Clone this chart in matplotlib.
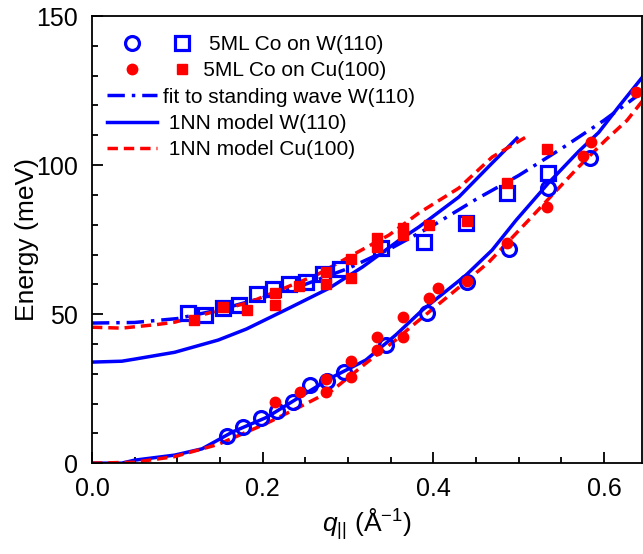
import matplotlib
matplotlib.use("Agg")
import matplotlib.pyplot as plt
from matplotlib.legend_handler import HandlerTuple
from matplotlib.ticker import MultipleLocator

plt.rcParams['font.family'] = ['Liberation Sans', 'DejaVu Sans']
plt.rcParams['mathtext.fontset'] = 'custom'
plt.rcParams['mathtext.rm'] = 'Liberation Sans'
plt.rcParams['mathtext.it'] = 'Liberation Sans:italic'

BLUE = '#0000ff'
RED = '#ff0000'

# --- data ---
# 5ML Co on W(110): lower branch (open circles), upper branch (open squares)
w_circ_q = [0.158, 0.177, 0.198, 0.217, 0.236, 0.256, 0.275, 0.295, 0.345, 0.393, 0.440, 0.489, 0.535, 0.584]
w_circ_e = [9.1, 12.1, 15.1, 17.6, 20.5, 26.2, 27.5, 30.5, 39.6, 50.3, 60.9, 71.8, 92.3, 102.3]
w_sq_q = [0.113, 0.133, 0.153, 0.172, 0.193, 0.212, 0.231, 0.251, 0.271, 0.291, 0.339, 0.389, 0.438, 0.486, 0.535]
w_sq_e = [50.3, 49.7, 52.0, 53.0, 56.7, 58.4, 60.1, 60.7, 63.4, 65.1, 72.1, 74.2, 80.5, 90.6, 97.3]

# 5ML Co on Cu(100): lower branch (filled circles), upper branch (filled squares)
cu_circ_q = [0.215, 0.244, 0.274, 0.274, 0.304, 0.304, 0.334, 0.334, 0.364, 0.364, 0.395, 0.406,
             0.440, 0.486, 0.533, 0.576, 0.585, 0.638]
cu_circ_e = [20.5, 23.8, 28.2, 24.0, 34.2, 28.8, 42.3, 37.9, 49.0, 42.3, 55.4, 58.7,
             61.1, 73.8, 86.0, 103.0, 107.7, 124.5]
cu_sq_q = [0.120, 0.153, 0.182, 0.214, 0.214, 0.243, 0.274, 0.274, 0.304, 0.304, 0.334, 0.334,
           0.364, 0.364, 0.395, 0.440, 0.486, 0.533]
cu_sq_e = [48.0, 52.3, 51.3, 57.0, 53.0, 59.4, 64.1, 60.1, 68.5, 62.1, 75.5, 72.5,
           78.8, 76.5, 79.9, 81.2, 94.0, 105.4]

# fit to standing wave W(110)
fit_q = [0.0, 0.05, 0.10, 0.15, 0.20, 0.25, 0.30, 0.35, 0.40, 0.45, 0.50, 0.55, 0.60, 0.645]
fit_e = [47.0, 47.2, 48.5, 51.5, 55.5, 60.0, 65.3, 72.0, 79.8, 88.5, 96.5, 105.5, 115.0, 124.5]

# 1NN model W(110): upper and lower branch
nnw_up_q = [0.0, 0.035, 0.05, 0.097, 0.148, 0.181, 0.231, 0.278, 0.317, 0.36, 0.383, 0.43, 0.469, 0.498]
nnw_up_e = [33.9, 34.2, 34.9, 37.2, 41.3, 45.0, 52.0, 58.7, 65.8, 74.8, 79.2, 89.3, 100.7, 109.0]
nnw_lo_q = [0.0, 0.035, 0.05, 0.097, 0.129, 0.165, 0.205, 0.243, 0.282, 0.321, 0.356, 0.387,
            0.438, 0.469, 0.497, 0.535, 0.570, 0.594, 0.617, 0.645]
nnw_lo_e = [0.0, 0.0, 1.0, 2.7, 4.8, 10.5, 15.4, 22.1, 28.9, 34.6, 43.0, 51.3,
            63.0, 71.5, 81.5, 94.0, 104.5, 111.0, 119.5, 129.5]

# 1NN model Cu(100): upper and lower branch
nncu_up_q = [0.0, 0.035, 0.076, 0.097, 0.185, 0.263, 0.305, 0.348, 0.383, 0.43, 0.469, 0.512]
nncu_up_e = [45.6, 45.3, 46.5, 47.3, 54.0, 63.1, 69.8, 76.5, 83.9, 92.3, 102.7, 110.0]
nncu_lo_q = [0.0, 0.05, 0.097, 0.148, 0.205, 0.243, 0.282, 0.321, 0.356, 0.372, 0.426, 0.465,
             0.51, 0.547, 0.570, 0.602, 0.627, 0.645]
nncu_lo_e = [0.0, 0.3, 2.2, 6.3, 13.4, 18.8, 24.5, 33.5, 41.3, 45.3, 58.0, 67.4,
             81.0, 92.3, 99.3, 108.4, 115.0, 121.5]


class WideTuple(HandlerTuple):
    # Origin-style legend: the symbol pair spreads wider than the line samples
    def create_artists(self, legend, orig_handle, xdescent, ydescent,
                       width, height, fontsize, trans):
        return super().create_artists(legend, orig_handle, xdescent, ydescent,
                                      width * 2, height, fontsize, trans)


fig = plt.figure(figsize=(6.43, 5.54), dpi=100)
ax = fig.add_axes([0.143, 0.164, 0.856, 0.807])

lw = 2.5
l_fit, = ax.plot(fit_q, fit_e, color=BLUE, lw=lw, ls=(0, (5, 2, 1, 2)))
l_nnw, = ax.plot(nnw_up_q, nnw_up_e, color=BLUE, lw=lw)
ax.plot(nnw_lo_q, nnw_lo_e, color=BLUE, lw=lw)
l_nncu, = ax.plot(nncu_up_q, nncu_up_e, color=RED, lw=lw, ls=(0, (3, 1.7)))
ax.plot(nncu_lo_q, nncu_lo_e, color=RED, lw=lw, ls=(0, (3, 1.7)))

m_wc, = ax.plot(w_circ_q, w_circ_e, 'o', ms=10, mfc='none', mec=BLUE, mew=2.3, ls='none')
m_ws, = ax.plot(w_sq_q, w_sq_e, 's', ms=9.5, mfc='none', mec=BLUE, mew=2.3, ls='none')
m_cc, = ax.plot(cu_circ_q, cu_circ_e, 'o', ms=7.5, color=RED, ls='none')
m_cs, = ax.plot(cu_sq_q, cu_sq_e, 's', ms=7, color=RED, ls='none')

ax.set_xlim(0, 0.645)
ax.set_ylim(0, 150)
ax.xaxis.set_major_locator(MultipleLocator(0.2))
ax.xaxis.set_minor_locator(MultipleLocator(0.05))
ax.yaxis.set_major_locator(MultipleLocator(50))
ax.yaxis.set_minor_locator(MultipleLocator(10))
ax.xaxis.set_major_formatter(plt.FuncFormatter(lambda v, p: f'{v:.1f}'))
ax.tick_params(which='both', direction='in', labelsize=18, width=1.3)
ax.tick_params(axis='x', pad=10)
ax.tick_params(axis='y', pad=10)
ax.tick_params(which='major', length=8)
ax.tick_params(which='minor', length=4)
for s in ax.spines.values():
    s.set_linewidth(1.3)

ax.set_ylabel('Energy (meV)', fontsize=19, labelpad=-2)
ax.set_xlabel(r'$q_{||}$ (Å$^{-1}$)', fontsize=19, labelpad=4)

handles = [(m_wc, m_ws), (m_cc, m_cs), l_fit, l_nnw, l_nncu]
labels = ['        5ML Co on W(110)', '       5ML Co on Cu(100)', 'fit to standing wave W(110)',
          ' 1NN model W(110)', ' 1NN model Cu(100)']
ax.legend(handles, labels, loc='upper left', bbox_to_anchor=(0.0, 0.99), frameon=False,
          fontsize=15, handlelength=2.4, handletextpad=0.3, labelspacing=0.35, borderaxespad=0.3,
          handler_map={tuple: WideTuple(ndivide=None, pad=0)})

fig.savefig('out.png', dpi=100)
